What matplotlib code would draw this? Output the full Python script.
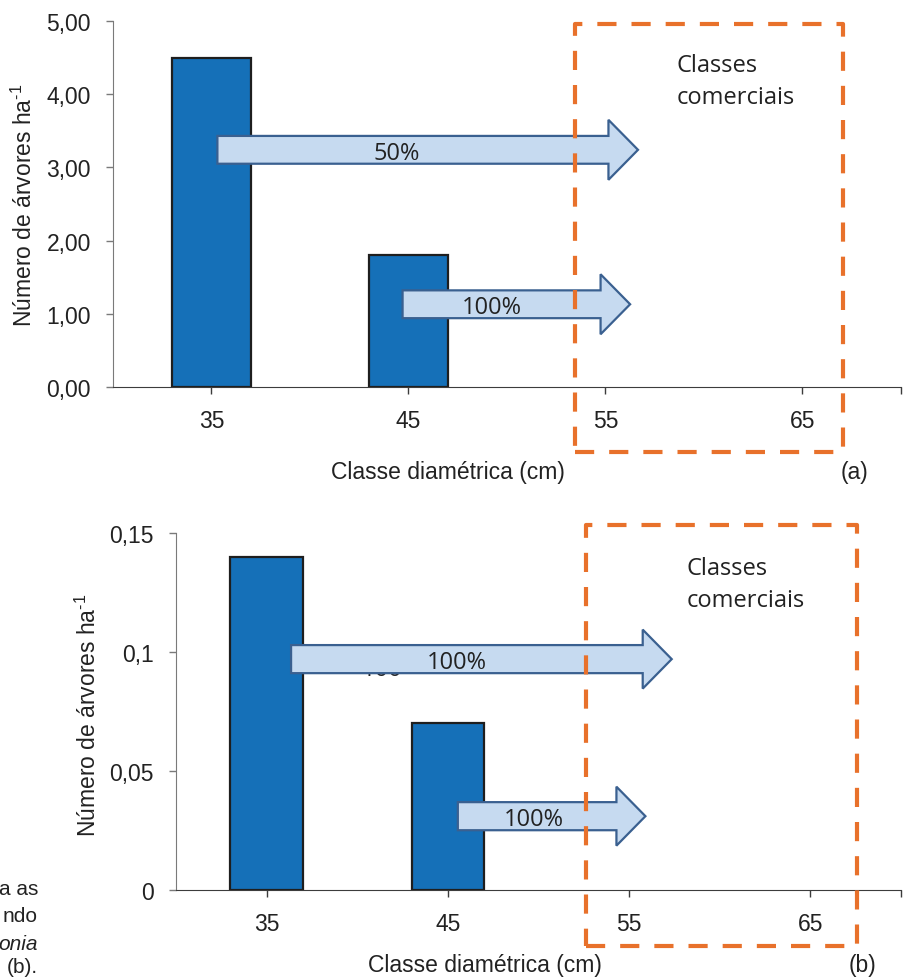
import matplotlib.pyplot as plt
import matplotlib.patches as mpatches

# data
classes = [35, 45, 55, 65]
tick_labels = ['35', '45', '55', '65']
trees_a = [4.50, 1.80]          # (a) arvores/ha, classes 35 e 45
trees_b = [0.14, 0.07]          # (b)
yticks_a = [0, 1, 2, 3, 4, 5]
ylabels_a = ['0,00', '1,00', '2,00', '3,00', '4,00', '5,00']
yticks_b = [0, 0.05, 0.1, 0.15]
ylabels_b = ['0', '0,05', '0,1', '0,15']

# arrows: (x start, x end, y, label, label x)
arrows_a = [(35.3, 56.65, 3.24, '50%', 44.4), (44.7, 56.25, 1.13, '100%', 49.25)]
arrows_b = [(36.35, 57.35, 0.097, '100%', 45.5), (45.55, 55.9, 0.031, '100%', 49.75)]

plt.rcParams['font.family'] = 'Liberation Sans'
plt.rcParams['mathtext.fontset'] = 'custom'
plt.rcParams['mathtext.rm'] = 'Liberation Sans'
arial = 16.5
calibri = dict(family='Open Sans', fontsize=17, color='#222222')

bar_color = '#1570B8'
arrow_fill = '#C6DAF0'
arrow_edge = '#3A6090'
orange = '#E8712B'

fig = plt.figure(figsize=(9.09, 9.78), dpi=100)
ax1 = fig.add_axes([0.1243, 0.6033, 0.8669, 0.3742])
ax2 = fig.add_axes([0.1936, 0.0890, 0.7976, 0.3650])


def style_axes(ax, yticks, ylabels, ymax):
    ax.set_xlim(30, 70)
    ax.set_ylim(0, ymax)
    ax.spines['top'].set_visible(False)
    ax.spines['right'].set_visible(False)
    ax.spines['left'].set_color('#7a7a7a')
    ax.spines['bottom'].set_color('#3c3c3c')
    ax.set_xticks(classes + [70])
    ax.set_xticklabels(tick_labels + [''])
    ax.set_yticks(yticks)
    ax.set_yticklabels(ylabels)
    ax.tick_params(axis='y', length=5, width=1, color='#7a7a7a', pad=11,
                   labelsize=arial, labelcolor='#222222')
    ax.tick_params(axis='x', length=5, width=1, color='#3c3c3c', pad=11,
                   labelsize=arial, labelcolor='#222222')


def draw_arrow(ax, x0, x1, y, body, head, head_len):
    arr = mpatches.FancyArrow(x0, y, x1 - x0, 0, width=body, head_width=head,
                              head_length=head_len, length_includes_head=True,
                              facecolor=arrow_fill, edgecolor=arrow_edge,
                              linewidth=1.6, zorder=3)
    ax.add_patch(arr)


ylab = 'Número de árvores ha$^{\\text{-1}}$'

# (a)
style_axes(ax1, yticks_a, ylabels_a, 5)
ax1.bar(classes[:2], trees_a, width=4, color=bar_color, edgecolor='#1e1e1e',
        linewidth=1.6, zorder=2)
for x0, x1, y, lab, lx in arrows_a:
    draw_arrow(ax1, x0, x1, y, 0.38, 0.82, 1.5)
    ax1.text(lx, y - 0.04, lab, ha='center', va='center', zorder=4, **calibri)
ax1.add_patch(mpatches.Rectangle((53.45, -0.89), 13.6, 5.85, fill=False,
                                 edgecolor=orange, linewidth=3,
                                 linestyle=(0, (4.6, 3.6)), joinstyle='round',
                                 clip_on=False, zorder=5))
ax1.text(58.6, 4.18, 'Classes\ncomerciais', ha='left', va='center',
         linespacing=1.45, **calibri)
ax1.set_ylabel(ylab, fontsize=arial, color='#222222', va='center')
ax1.yaxis.set_label_coords(-0.112, 0.5)
ax1.set_xlabel('Classe diamétrica (cm)', fontsize=arial, color='#222222',
               va='center')
ax1.xaxis.set_label_coords(0.425, -0.232)
fig.text(855 / 909, 1 - 473 / 978, '(a)', ha='center', va='center',
         fontsize=arial, color='#222222')

# (b)
style_axes(ax2, yticks_b, ylabels_b, 0.15)
ax2.bar(classes[:2], trees_b, width=4, color=bar_color, edgecolor='#1e1e1e',
        linewidth=1.6, zorder=2)
# label left behind the arrow in the original
ax2.text(41.4, 0.0903, '100', ha='center', va='baseline', zorder=2.5, **calibri)
for x0, x1, y, lab, lx in arrows_b:
    draw_arrow(ax2, x0, x1, y, 0.0118, 0.0248, 1.6)
    ax2.text(lx, y - 0.0012, lab, ha='center', va='center', zorder=4, **calibri)
ax2.add_patch(mpatches.Rectangle((52.6, -0.0235), 15.0, 0.177, fill=False,
                                 edgecolor=orange, linewidth=3,
                                 linestyle=(0, (4.6, 3.6)), joinstyle='round',
                                 clip_on=False, zorder=5))
ax2.text(58.15, 0.1285, 'Classes\ncomerciais', ha='left', va='center',
         linespacing=1.45, **calibri)
ax2.set_ylabel(ylab, fontsize=arial, color='#222222', va='center')
ax2.yaxis.set_label_coords((88 - 176) / 725, (891 - 715) / 357)
ax2.set_xlabel('Classe diamétrica (cm)', fontsize=arial, color='#222222',
               va='center')
ax2.xaxis.set_label_coords(0.426, -0.21)
fig.text(862 / 909, 1 - 966 / 978, '(b)', ha='center', va='center',
         fontsize=arial, color='#222222')

# caption fragments cut at the left edge
frag = ['a as', 'ndo', 'onia', '(b).']
frag_y = [890, 917, 944, 968]
for t, yy in zip(frag, frag_y):
    fig.text(38 / 909, 1 - yy / 978, t, ha='right', va='center', fontsize=15,
             color='#222222', style='italic' if t == 'onia' else 'normal')

fig.savefig('out.png', dpi=100)
